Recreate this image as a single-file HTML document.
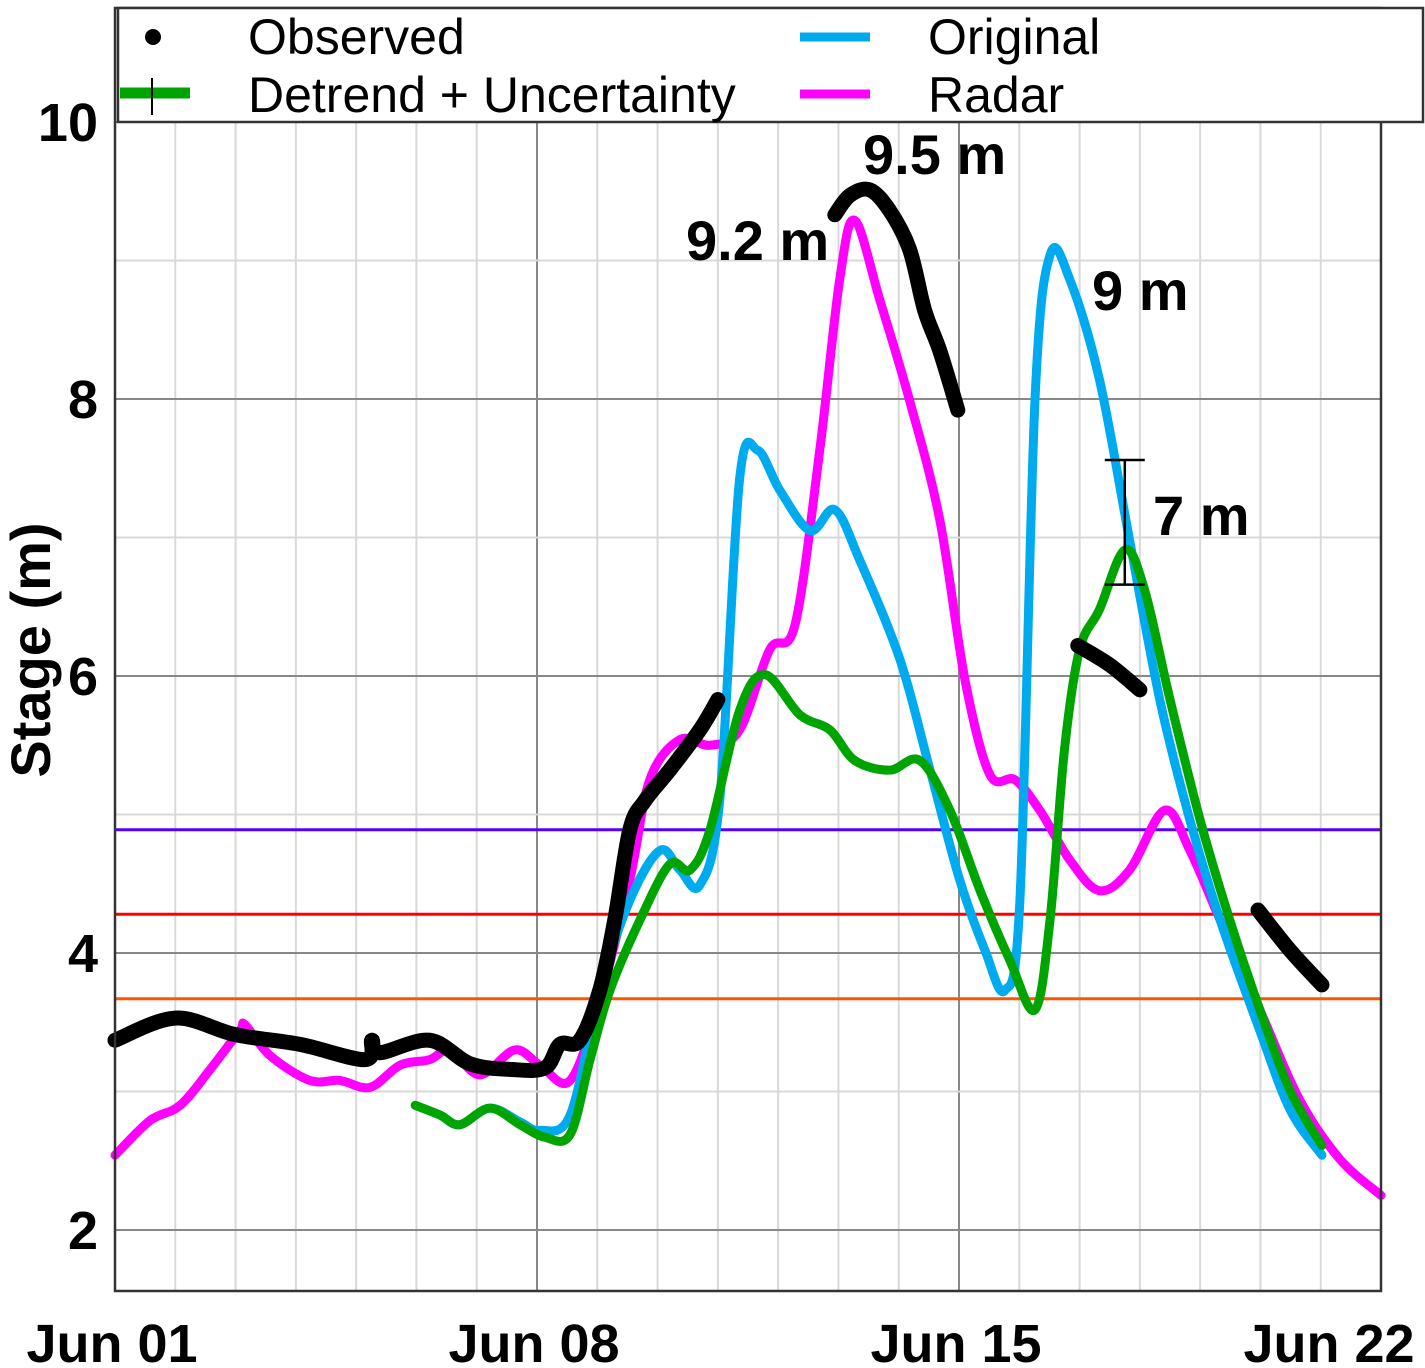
<!DOCTYPE html>
<html><head><meta charset="utf-8"><style>
html,body{margin:0;padding:0;background:#fff}
svg{display:block;font-family:"Liberation Sans",Arial,sans-serif}
</style></head><body>
<svg id="chart" width="1425" height="1368" viewBox="0 0 1425 1368">
<g id="grid"></g>
<g id="hlines"></g>
<g id="series"></g>
<rect x="115" y="8" width="1266" height="1283" fill="none" stroke="#333" stroke-width="2.5"/>
<g id="axes"></g>
<g font-weight="bold" font-size="56" fill="#000">
<text x="863" y="174">9.5 m</text>
<text x="686" y="260">9.2 m</text>
<text x="1092" y="310">9 m</text>
<text x="1153" y="535">7 m</text>
</g>
<g>
<rect x="118" y="8" width="1305" height="114" fill="#fff" stroke="#333" stroke-width="2.5"/>
<circle cx="153" cy="37" r="8" fill="#000"/>
<text x="248" y="54" font-size="50">Observed</text>
<line x1="120" y1="93" x2="190" y2="93" stroke="#00a400" stroke-width="11"/>
<line x1="152" y1="78" x2="152" y2="115" stroke="#000" stroke-width="2"/>
<text x="248" y="112" font-size="50">Detrend + Uncertainty</text>
<line x1="800" y1="37" x2="870" y2="37" stroke="#00aaee" stroke-width="9"/>
<text x="928" y="54" font-size="50">Original</text>
<line x1="800" y1="94" x2="870" y2="94" stroke="#ff00ff" stroke-width="9"/>
<text x="928" y="112" font-size="50">Radar</text>
</g>
</svg>
<script>
const xTickLabels=["Jun 01","Jun 08","Jun 15","Jun 22"];
const xTickDays=[0,7,14,21];
const yTicks=[2,4,6,8,10];
const thresholds=[4.89,4.28,3.67];
const thresholdColors=["#5500ff","#ff0000","#ff5500"];
const obs1Days=[0,1,2,3.07,4.15,4.26,4.39,5.22,5.89,6.55,7.13,7.38,7.71,8.04,8.29,8.54,8.79,9.2,9.7,10.0];
const obs1Vals=[3.37,3.53,3.41,3.34,3.23,3.37,3.28,3.37,3.2,3.16,3.17,3.34,3.37,3.73,4.24,4.89,5.1,5.32,5.61,5.83];
const obs2Days=[11.94,12.19,12.52,12.85,13.18,13.43,13.68,13.98];
const obs2Vals=[9.33,9.47,9.51,9.36,9.08,8.64,8.35,7.92];
const obs3Days=[15.97,16.5,17.0];
const obs3Vals=[6.22,6.08,5.9];
const obs4Days=[18.96,19.49,20.02];
const obs4Vals=[4.31,4.02,3.77];
const radarDays=[0,0.58,1.08,1.58,2.07,2.16,2.57,3.23,3.73,4.23,4.73,5.22,5.56,6.05,6.63,7.05,7.55,8.04,8.54,8.87,9.37,9.87,10.36,10.86,11.28,11.69,12.02,12.27,12.69,13.18,13.68,14.1,14.51,14.93,15.34,15.84,16.33,16.83,17.41,17.83,18.33,18.99,19.65,20.32,21];
const radarVals=[2.54,2.79,2.9,3.16,3.44,3.48,3.26,3.08,3.08,3.03,3.19,3.23,3.3,3.12,3.3,3.19,3.08,3.66,4.53,5.25,5.54,5.5,5.61,6.19,6.37,7.63,8.86,9.29,8.71,7.99,7.13,5.97,5.29,5.25,5.03,4.67,4.45,4.6,5.03,4.74,4.24,3.59,2.94,2.51,2.25];
const origDays=[4.98,5.39,5.72,6.22,6.72,7.05,7.55,8.04,8.54,9.04,9.37,9.7,10.03,10.36,10.66,11.03,11.53,11.94,12.35,13.02,13.52,14.01,14.43,14.76,15.01,15.26,15.51,15.84,16.33,16.83,17.33,17.83,18.33,18.99,19.49,20.02];
const origVals=[2.9,2.83,2.76,2.88,2.78,2.72,2.83,3.73,4.38,4.74,4.6,4.49,5.1,7.42,7.63,7.34,7.05,7.2,6.84,6.12,5.32,4.53,4.02,3.73,4.38,7.99,9.04,8.86,8.14,6.98,5.83,4.96,4.24,3.44,2.87,2.54];
const detDays=[4.98,5.39,5.72,6.22,6.72,7.13,7.55,7.88,8.21,8.71,9.2,9.54,9.87,10.36,10.78,11.36,11.86,12.27,12.85,13.35,13.85,14.35,14.84,15.26,15.51,15.75,16.0,16.33,16.75,17.08,17.5,18.0,18.49,18.99,19.49,20.02];
const detVals=[2.9,2.83,2.76,2.88,2.76,2.67,2.69,3.23,3.73,4.24,4.64,4.6,4.89,5.75,6.01,5.72,5.61,5.39,5.32,5.39,5.03,4.45,3.95,3.59,4.24,5.47,6.19,6.48,6.91,6.62,5.83,4.96,4.24,3.59,3.01,2.61];
const errDay=[16.75];
const errLow=[6.66];
const errHigh=[7.56];

const NS="http://www.w3.org/2000/svg";
const X=d=>115+d*60.286;
const Y=v=>122+(10-v)*138.5;
function mk(tag,attrs,parent){const e=document.createElementNS(NS,tag);for(const k in attrs)e.setAttribute(k,attrs[k]);parent.appendChild(e);return e;}
const grid=document.getElementById('grid'),hl=document.getElementById('hlines'),ser=document.getElementById('series'),axes=document.getElementById('axes');
for(let d=1;d<21;d++){const major=d%7===0;const l=mk('line',{x1:X(d),x2:X(d),y1:8,y2:1291,stroke:major?'#888':'#d8d8d8','stroke-width':2},grid);

}
for(let v=2;v<=10;v++){const major=v%2===0;const l=mk('line',{x1:115,x2:1381,y1:Y(v),y2:Y(v),stroke:major?'#888':'#d8d8d8','stroke-width':2},grid);

}
thresholds.forEach((t,i)=>{const l=mk('line',{x1:115,x2:1381,y1:Y(t),y2:Y(t),stroke:thresholdColors[i],'stroke-width':3},hl);

});
function smooth(ds,vs){const p=ds.map((d,i)=>[X(d),Y(vs[i])]);let s=`M${p[0][0]},${p[0][1]}`;
for(let i=0;i<p.length-1;i++){const p0=p[i-1]||p[i],p1=p[i],p2=p[i+1],p3=p[i+2]||p2;
s+=` C${p1[0]+(p2[0]-p0[0])/6},${p1[1]+(p2[1]-p0[1])/6} ${p2[0]-(p3[0]-p1[0])/6},${p2[1]-(p3[1]-p1[1])/6} ${p2[0]},${p2[1]}`;}return s;}
function line(ds,vs,color,w,name){const e=mk('path',{d:smooth(ds,vs),fill:'none',stroke:color,'stroke-width':w,'stroke-linecap':'round','stroke-linejoin':'round'},ser);

}
line(radarDays,radarVals,'#ff00ff',9,'radar-line');
line(origDays,origVals,'#00aaee',9,'original-line');
line(detDays,detVals,'#00a400',9,'detrend-line');
[[obs1Days,obs1Vals],[obs2Days,obs2Vals],[obs3Days,obs3Vals],[obs4Days,obs4Vals]].forEach(s=>line(s[0],s[1],'#000',15,'observed-line'));
errDay.forEach((d,i)=>{const x=X(d);
const e=mk('path',{d:`M${x},${Y(errHigh[i])}V${Y(errLow[i])}M${x-20},${Y(errHigh[i])}H${x+20}M${x-20},${Y(errLow[i])}H${x+20}`,stroke:'#000','stroke-width':2.5,fill:'none'},ser);

});
yTicks.forEach(v=>{const t=mk('text',{x:98,y:Y(v)+19,'text-anchor':'end','font-size':54,'font-weight':'bold'},axes);t.textContent=v;

});
const xOffsets=[-3,-3,-3,-52];
xTickLabels.forEach((s,i)=>{const t=mk('text',{x:X(xTickDays[i])+xOffsets[i],y:1362,'text-anchor':'middle','font-size':54,'font-weight':'bold'},axes);t.textContent=s;

});
const yt=mk('text',{x:0,y:0,transform:'translate(50,650) rotate(-90)','text-anchor':'middle','font-size':56,'font-weight':'bold'},axes);yt.textContent='Stage (m)';


</script>
</body></html>
